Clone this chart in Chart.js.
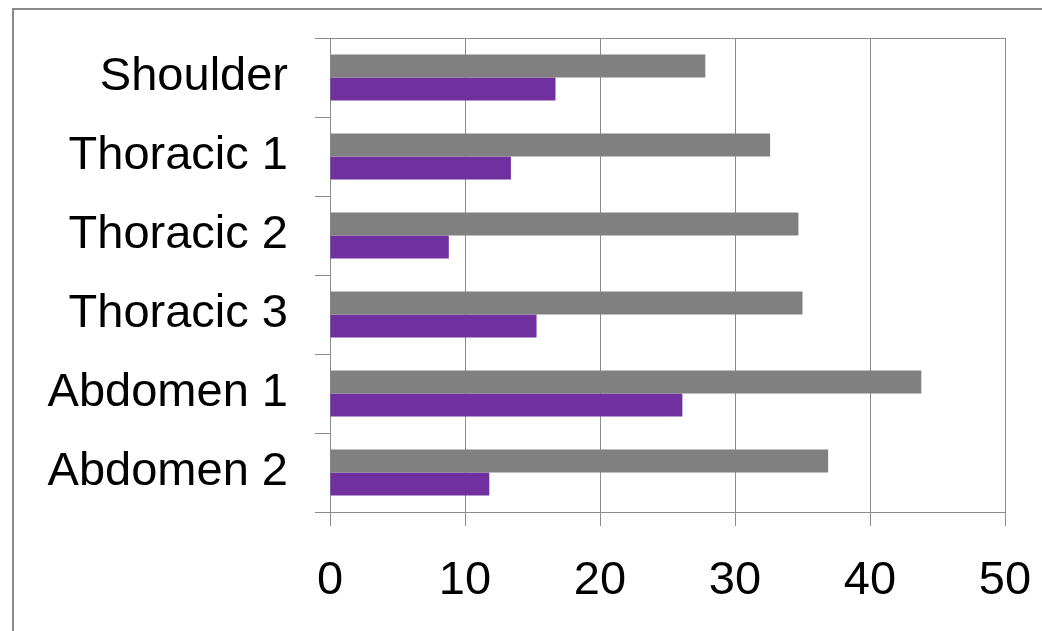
<!DOCTYPE html>
<html>
<head>
<meta charset="utf-8">
<script src="https://cdn.jsdelivr.net/npm/chart.js@4/dist/chart.umd.min.js"></script>
<style>
  html, body { margin: 0; padding: 0; background: #fff; overflow: hidden; }
  #wrap { position: relative; width: 1042px; height: 631px; }
  #frame { position: absolute; left: 12px; top: 8px; width: 1100px; height: 700px; border-left: 2px solid #8a8a8a; border-top: 2px solid #8a8a8a; }
  canvas { position: absolute; left: 0; top: 0; }
</style>
</head>
<body>
<div id="wrap">
  <div id="frame"></div>
  <canvas id="c" width="1042" height="631"></canvas>
</div>
<script>
const categories = ['Shoulder', 'Thoracic 1', 'Thoracic 2', 'Thoracic 3', 'Abdomen 1', 'Abdomen 2'];
const graySeries = [27.8, 32.6, 34.7, 35.0, 43.8, 36.9];
const purpleSeries = [16.7, 13.4, 8.8, 15.3, 26.1, 11.8];
const xTicks = [0, 10, 20, 30, 40, 50];

const lineColor = '#8c8c8c';
const fontFamily = '"Liberation Sans", Arial, sans-serif';

new Chart(document.getElementById('c'), {
  type: 'bar',
  data: {
    labels: categories,
    datasets: [
      { label: 'Series 1', data: graySeries, backgroundColor: '#808080', categoryPercentage: 0.58, barPercentage: 1.0 },
      { label: 'Series 2', data: purpleSeries, backgroundColor: '#7030A0', categoryPercentage: 0.58, barPercentage: 1.0 }
    ]
  },
  options: {
    indexAxis: 'y',
    responsive: false,
    devicePixelRatio: 1,
    animation: false,
    layout: { padding: { top: 38, right: 37, left: 0, bottom: 0 } },
    plugins: { legend: { display: false }, tooltip: { enabled: false } },
    scales: {
      x: {
        type: 'linear',
        min: xTicks[0],
        max: xTicks[xTicks.length - 1],
        afterBuildTicks: (s) => { s.ticks = xTicks.map(v => ({ value: v })); },
        afterFit: (s) => { s.height = 119; s.paddingLeft = 0; s.paddingRight = 0; },
        border: { display: true, color: lineColor, width: 1 },
        grid: { color: lineColor, lineWidth: 1, tickLength: 14, tickColor: lineColor },
        ticks: { color: '#000', font: { family: fontFamily, size: 47 }, padding: 27, maxRotation: 0 }
      },
      y: {
        type: 'category',
        afterFit: (s) => { s.width = 330; s.paddingTop = 0; s.paddingBottom = 0; },
        border: { display: true, color: lineColor, width: 1 },
        grid: {
          offset: true,
          drawOnChartArea: true,
          color: (ctx) => (ctx.index === 0 ? lineColor : 'rgba(0,0,0,0)'),
          tickColor: lineColor,
          tickLength: 15,
          lineWidth: 1
        },
        ticks: { color: '#000', font: { family: fontFamily, size: 47 }, padding: 27 }
      }
    }
  }
});
</script>
</body>
</html>
